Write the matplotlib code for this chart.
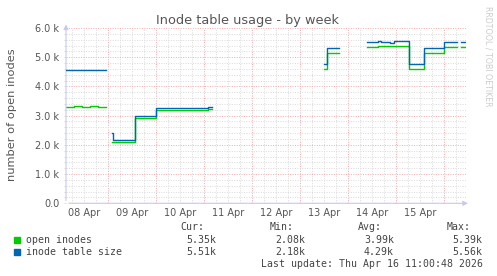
import numpy as np
import pandas as pd
import matplotlib
matplotlib.use("Agg")
import matplotlib.pyplot as plt
import matplotlib.dates as mdates
from matplotlib.patches import Rectangle

# samples, NaN = no data
times = pd.to_datetime([
    "2026-04-08 03:00", "2026-04-08 07:00", "2026-04-08 11:00", "2026-04-08 15:00",
    "2026-04-08 19:00", "2026-04-08 23:00",
    "2026-04-09 02:00", "2026-04-09 02:30", "2026-04-09 13:30", "2026-04-10 00:00",
    "2026-04-10 08:00", "2026-04-10 12:00", "2026-04-10 18:00", "2026-04-11 00:00",
    "2026-04-11 02:00", "2026-04-11 04:00",
    "2026-04-13 12:00", "2026-04-13 13:30", "2026-04-13 19:30",
    "2026-04-14 09:30", "2026-04-14 15:00", "2026-04-14 16:30", "2026-04-14 21:00",
    "2026-04-14 23:00", "2026-04-15 06:30", "2026-04-15 14:00", "2026-04-16 00:00",
    "2026-04-16 06:30", "2026-04-16 08:30", "2026-04-16 11:00",
])
nan = np.nan
open_inodes = [
    3310, 3320, 3300, 3320, 3300, nan,
    2090, 2090, 2920, 3190, 3190, 3200, 3190, 3190, 3230, nan,
    4590, 5140, nan,
    5360, 5400, 5400, 5400, 5390, 4590, 5140, 5350, nan, 5350, 5350,
]
table_size = [
    4550, 4570, 4550, 4570, 4550, nan,
    2410, 2170, 2980, 3250, 3270, 3250, 3260, 3250, 3280, nan,
    4770, 5310, nan,
    5520, 5540, 5520, 5500, 5560, 4770, 5310, 5520, nan, 5510, 5510,
]

series_names = ["open inodes", "inode table size"]
series_colors = ["#00cc00", "#0066b3"]
cur_vals = ["5.35k", "5.51k"]
min_vals = ["2.08k", "2.18k"]
avg_vals = ["3.99k", "4.29k"]
max_vals = ["5.39k", "5.56k"]
day_labels = pd.date_range("2026-04-08", "2026-04-15")

W, H = 497, 276
fig = plt.figure(figsize=(W / 100, H / 100), dpi=100, facecolor="white")
ax = fig.add_axes([66 / W, 1 - 203.3 / H, 400 / W, 175.3 / H])

def fx(px):
    return px / W

def fy(py):
    return 1 - py / H

ax.step(times, open_inodes, where="post", color=series_colors[0], lw=1.0, zorder=3)
ax.step(times, table_size, where="post", color=series_colors[1], lw=1.0, zorder=4)

ax.set_xlim(pd.Timestamp("2026-04-08 03:00"), pd.Timestamp("2026-04-16 11:00"))
ax.set_ylim(0, 6000)

# dotted grid like rrdtool
major_c = "#f4aaaa"
minor_c = "#dadada"
dots = (0, (1, 1.5))
ax.xaxis.set_major_locator(mdates.DayLocator())
ax.xaxis.set_minor_locator(mdates.HourLocator(byhour=[6, 12, 18]))
ax.xaxis.set_major_formatter(plt.NullFormatter())
ax.yaxis.set_major_locator(plt.MultipleLocator(1000))
ax.yaxis.set_minor_locator(plt.MultipleLocator(200))
ax.yaxis.set_major_formatter(plt.FuncFormatter(
    lambda v, p: "0.0" if v == 0 else f"{v / 1000:.1f} k"))
ax.grid(True, which="minor", color=minor_c, ls=dots, lw=0.7, zorder=0)
ax.grid(True, which="major", color=major_c, ls=dots, lw=0.7, zorder=1)
ax.set_axisbelow(True)

ax.tick_params(axis="y", which="both", length=1.5, width=0.72, color=minor_c,
               labelsize=7, labelcolor="#555555", pad=3.3)
ax.tick_params(axis="x", which="both", length=0)
for s in ax.spines.values():
    s.set_visible(False)

for d in day_labels:
    ax.text(d + pd.Timedelta(hours=12), -0.028, d.strftime("%d %b"),
            transform=ax.get_xaxis_transform(), ha="center", va="top",
            fontsize=7, color="#555555")

# axis arrows
axis_c = "#c8c8f0"
ax.annotate("", xy=(1.012, 0), xytext=(0, 0), xycoords="axes fraction",
            arrowprops=dict(arrowstyle="-|>", color=axis_c, lw=0.8, mutation_scale=7))
ax.annotate("", xy=(0, 1.036), xytext=(0, 0), xycoords="axes fraction",
            arrowprops=dict(arrowstyle="-|>", color=axis_c, lw=0.8, mutation_scale=7))

fig.text(fx(247), fy(24), "Inode table usage - by week", ha="center", va="baseline",
         fontsize=9.3, color="#555555")
fig.text(fx(12), fy(115), "number of open inodes", rotation=90, ha="center",
         va="center", fontsize=8.2, color="#555555")
fig.text(fx(488), fy(56), "RRDTOOL / TOBI OETIKER", rotation=270, ha="center",
         va="center", fontsize=5.7, color="#cccccc")

# legend block
mono = dict(family="DejaVu Sans Mono", fontsize=7.15, color="#444444")
cols = [216.7, 305.7, 394, 482.7]
for x, h in zip(cols, ["Cur:", "Min:", "Avg:", "Max:"]):
    fig.text(fx(x - 12), fy(227.5), h, ha="right", va="center", **mono)
rows = [239.8, 252]
for i, name in enumerate(series_names):
    y = rows[i]
    fig.add_artist(Rectangle((fx(14), fy(y + 3)), 6 / W, 6 / H,
                             transform=fig.transFigure, color=series_colors[i]))
    fig.text(fx(26.3), fy(y), name, ha="left", va="center", **mono)
    for x, v in zip(cols, [cur_vals[i], min_vals[i], avg_vals[i], max_vals[i]]):
        fig.text(fx(x), fy(y), v, ha="right", va="center", **mono)
fig.text(fx(482.7), fy(263.8), "Last update: Thu Apr 16 11:00:48 2026",
         ha="right", va="center", **mono)

fig.savefig("out.png", dpi=100, facecolor="white")
